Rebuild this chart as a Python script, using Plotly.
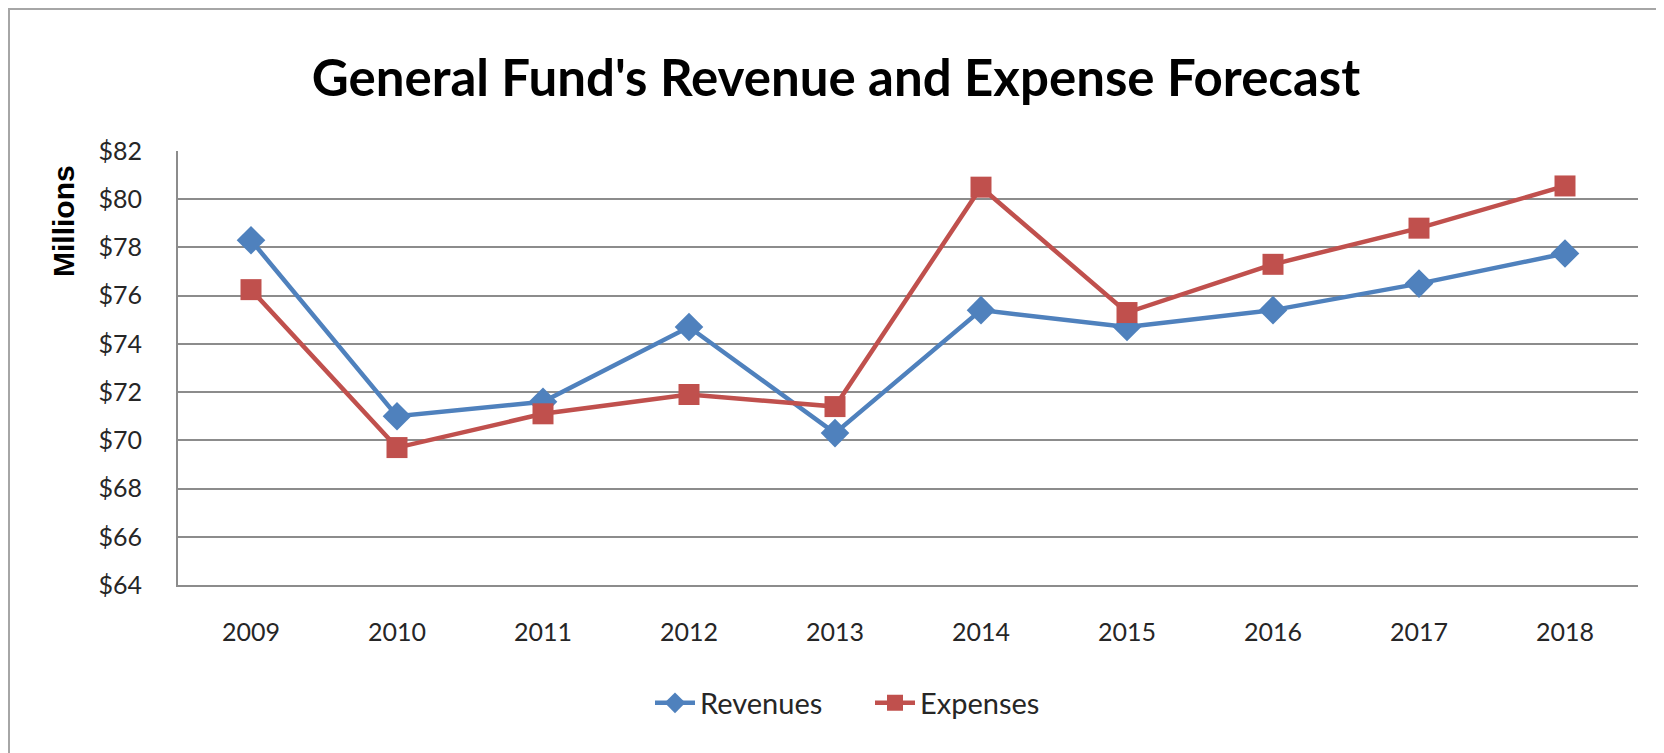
import plotly.graph_objects as go

years = ["2009", "2010", "2011", "2012", "2013", "2014", "2015", "2016", "2017", "2018"]
revenues = [78.3, 71.0, 71.6, 74.7, 70.3, 75.4, 74.7, 75.4, 76.5, 77.75]
expenses = [76.25, 69.7, 71.1, 71.9, 71.4, 80.5, 75.3, 77.3, 78.8, 80.55]
y_ticks = list(range(64, 83, 2))
y_labels = [f"${v}" for v in y_ticks]

BLUE = "#4F81BD"
RED = "#C0504D"
GRID = "#8C8C8C"
FONT = "Lato, 'Open Sans', sans-serif"

# the page puts the figure 8px in from the corner, so size it to fit
W, H = 1656, 745
L, T, PW, PH = 170, 143, 1460, 434


def px_x(x):
    return (x - L) / PW


def px_y(y):
    return (T + PH - y) / PH


fig = go.Figure()
fig.add_trace(go.Scatter(
    x=years, y=revenues, name="Revenues", mode="lines+markers",
    line=dict(color=BLUE, width=4.5),
    marker=dict(symbol="diamond", size=22, color=BLUE),
))
fig.add_trace(go.Scatter(
    x=years, y=expenses, name="Expenses", mode="lines+markers",
    line=dict(color=RED, width=4.5),
    marker=dict(symbol="square", size=21, color=RED),
))

fig.update_layout(
    width=W, height=H,
    margin=dict(l=L, r=W - L - PW, t=T, b=H - T - PH),
    paper_bgcolor="white", plot_bgcolor="white",
    font=dict(family=FONT, size=25, color="#262626"),
    title=dict(
        text="<b>General Fund's Revenue and Expense Forecast</b>",
        x=0.5, xref="container", xanchor="center",
        y=1 - 70 / H, yref="container", yanchor="middle",
        font=dict(family=FONT, size=51, color="black"),
    ),
    legend=dict(
        orientation="h", x=642 / W, xref="container", xanchor="left",
        y=1 - 695 / H, yref="container", yanchor="middle",
        font=dict(size=29), itemwidth=40, entrywidth=165,
        traceorder="normal",
    ),
    showlegend=True,
)

fig.update_xaxes(
    type="category", range=[-0.5, len(years) - 0.5],
    showgrid=False, showline=True, linecolor=GRID, linewidth=2,
    ticks="", ticklabelstandoff=24,
)
fig.update_yaxes(
    range=[64, 82], tickvals=y_ticks, ticktext=y_labels,
    showgrid=True, gridcolor=GRID, gridwidth=2, zeroline=False,
    showline=True, linecolor=GRID, linewidth=2, ticks="", ticklabelstandoff=29,
)

fig.add_annotation(
    text="<b>Millions</b>", textangle=-90, showarrow=False,
    xref="paper", yref="paper",
    x=px_x(55), y=px_y(213), xanchor="center", yanchor="middle",
    font=dict(family="'Liberation Sans', Arial, sans-serif", size=30, color="black"),
)

# chart frame (left and top edges show in the picture)
fig.add_shape(
    type="rect", xref="paper", yref="paper",
    x0=px_x(1), x1=1.2, y0=-0.6, y1=px_y(1),
    line=dict(color="#A6A6A6", width=2), layer="below",
)

fig.write_html("out.html")
